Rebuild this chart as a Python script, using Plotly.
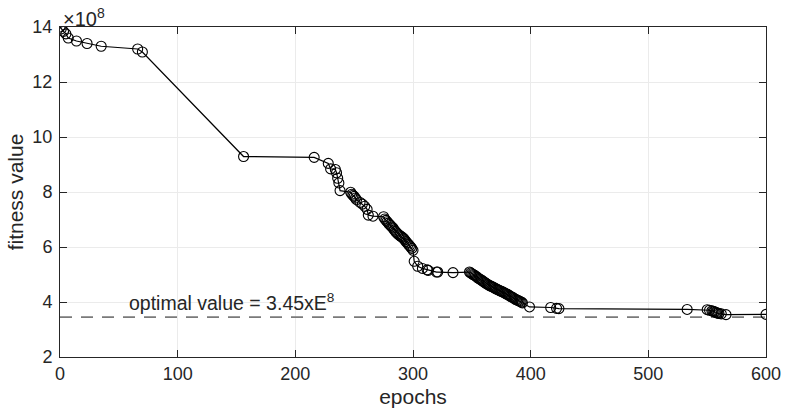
import plotly.graph_objects as go

# fitness values in units of 1e8
epochs = [0, 1, 3, 5, 7, 14, 23, 35, 66, 70, 156, 216, 228, 230, 234, 235, 236, 237, 238,
          247, 248, 249, 250, 251, 252, 255, 257, 259, 261, 262, 266, 275, 276, 277, 278,
          279, 280, 281, 282, 283, 284, 285, 286, 287, 288, 289, 290, 291, 292, 293, 294,
          295, 296, 297, 298, 299, 300, 301, 304, 308, 312, 313, 320, 321, 334, 348, 349,
          350, 351, 352, 353, 354, 355, 356, 357, 358, 359, 360, 361, 362, 363, 364, 365,
          366, 367, 368, 369, 370, 371, 372, 373, 374, 375, 376, 377, 378, 379, 380, 381,
          382, 383, 384, 385, 386, 387, 388, 389, 390, 391, 392, 393, 399, 417, 422, 424,
          533, 550, 552, 554, 555, 556, 557, 558, 559, 560, 562, 566, 600]
fitness = [14.0, 13.93, 13.84, 13.75, 13.6, 13.49, 13.4, 13.3, 13.2, 13.09, 9.29, 9.26, 9.04,
           8.84, 8.82, 8.7, 8.5, 8.33, 8.05, 7.99, 7.92, 7.88, 7.84, 7.78, 7.72, 7.62, 7.56,
           7.48, 7.37, 7.16, 7.12, 7.1, 7.02, 6.97, 6.92, 6.87, 6.82, 6.78, 6.73, 6.69, 6.62,
           6.57, 6.52, 6.48, 6.44, 6.41, 6.38, 6.35, 6.31, 6.26, 6.2, 6.15, 6.1, 6.05, 6.0,
           5.95, 5.88, 5.48, 5.3, 5.22, 5.17, 5.15, 5.09, 5.09, 5.07, 5.09, 5.06, 5.03, 5.0,
           4.98, 4.95, 4.92, 4.88, 4.85, 4.83, 4.8, 4.77, 4.74, 4.71, 4.68, 4.65, 4.63, 4.6,
           4.58, 4.56, 4.54, 4.52, 4.49, 4.47, 4.45, 4.43, 4.41, 4.39, 4.37, 4.35, 4.33, 4.3,
           4.28, 4.26, 4.23, 4.2, 4.18, 4.16, 4.13, 4.1, 4.08, 4.06, 4.04, 4.02, 4.0, 3.97,
           3.82, 3.8, 3.77, 3.76, 3.73, 3.72, 3.7, 3.68, 3.66, 3.65, 3.63, 3.61, 3.6, 3.58,
           3.57, 3.54, 3.55]

optimal_x = [0, 600]
optimal_y = [3.45, 3.45]
optimal_label = "optimal value = 3.45xE<sup>8</sup>"

x_ticks = [0, 100, 200, 300, 400, 500, 600]
y_ticks = [2, 4, 6, 8, 10, 12, 14]

FONT = "Liberation Sans, Arial, sans-serif"
AX = "#262626"

fig = go.Figure()
fig.add_trace(go.Scatter(
    x=optimal_x, y=optimal_y, mode="lines",
    line=dict(color="#7a7a7a", width=1.6, dash="12px,9px"),
    showlegend=False, hoverinfo="skip"))
fig.add_trace(go.Scatter(
    x=epochs, y=fitness, mode="lines+markers",
    line=dict(color="black", width=1.2),
    marker=dict(symbol="circle-open", size=10, color="black", line=dict(width=1.1)),
    showlegend=False))

fig.add_annotation(x=57, y=4.0, xref="x", yref="y", text=optimal_label, showarrow=False,
                   xanchor="left", yanchor="middle", font=dict(family=FONT, size=19.5, color=AX))
fig.add_annotation(x=0, y=1.0, xref="paper", yref="paper", text="×10<sup>8</sup>",
                   showarrow=False, xanchor="left", yanchor="bottom", yshift=-5, xshift=1,
                   font=dict(family=FONT, size=20, color=AX))

axis_common = dict(showline=True, mirror="ticks", linecolor=AX, linewidth=1,
                   ticks="inside", ticklen=7, tickcolor=AX, showgrid=True,
                   gridcolor="#ebebeb", gridwidth=1, zeroline=False,
                   tickfont=dict(family=FONT, size=18, color=AX))

fig.update_xaxes(range=[0, 600], tickvals=x_ticks,
                 title=dict(text="epochs", font=dict(family=FONT, size=21, color=AX), standoff=6),
                 **axis_common)
fig.update_yaxes(range=[2, 14], tickvals=y_ticks, ticklabelstandoff=3,
                 title=dict(text="fitness value", font=dict(family=FONT, size=21, color=AX), standoff=3),
                 **axis_common)

fig.update_layout(width=793, height=418, margin=dict(l=60, r=18, t=27, b=61),
                  paper_bgcolor="white", plot_bgcolor="white",
                  font=dict(family=FONT, color=AX))

fig.write_html("out.html")
